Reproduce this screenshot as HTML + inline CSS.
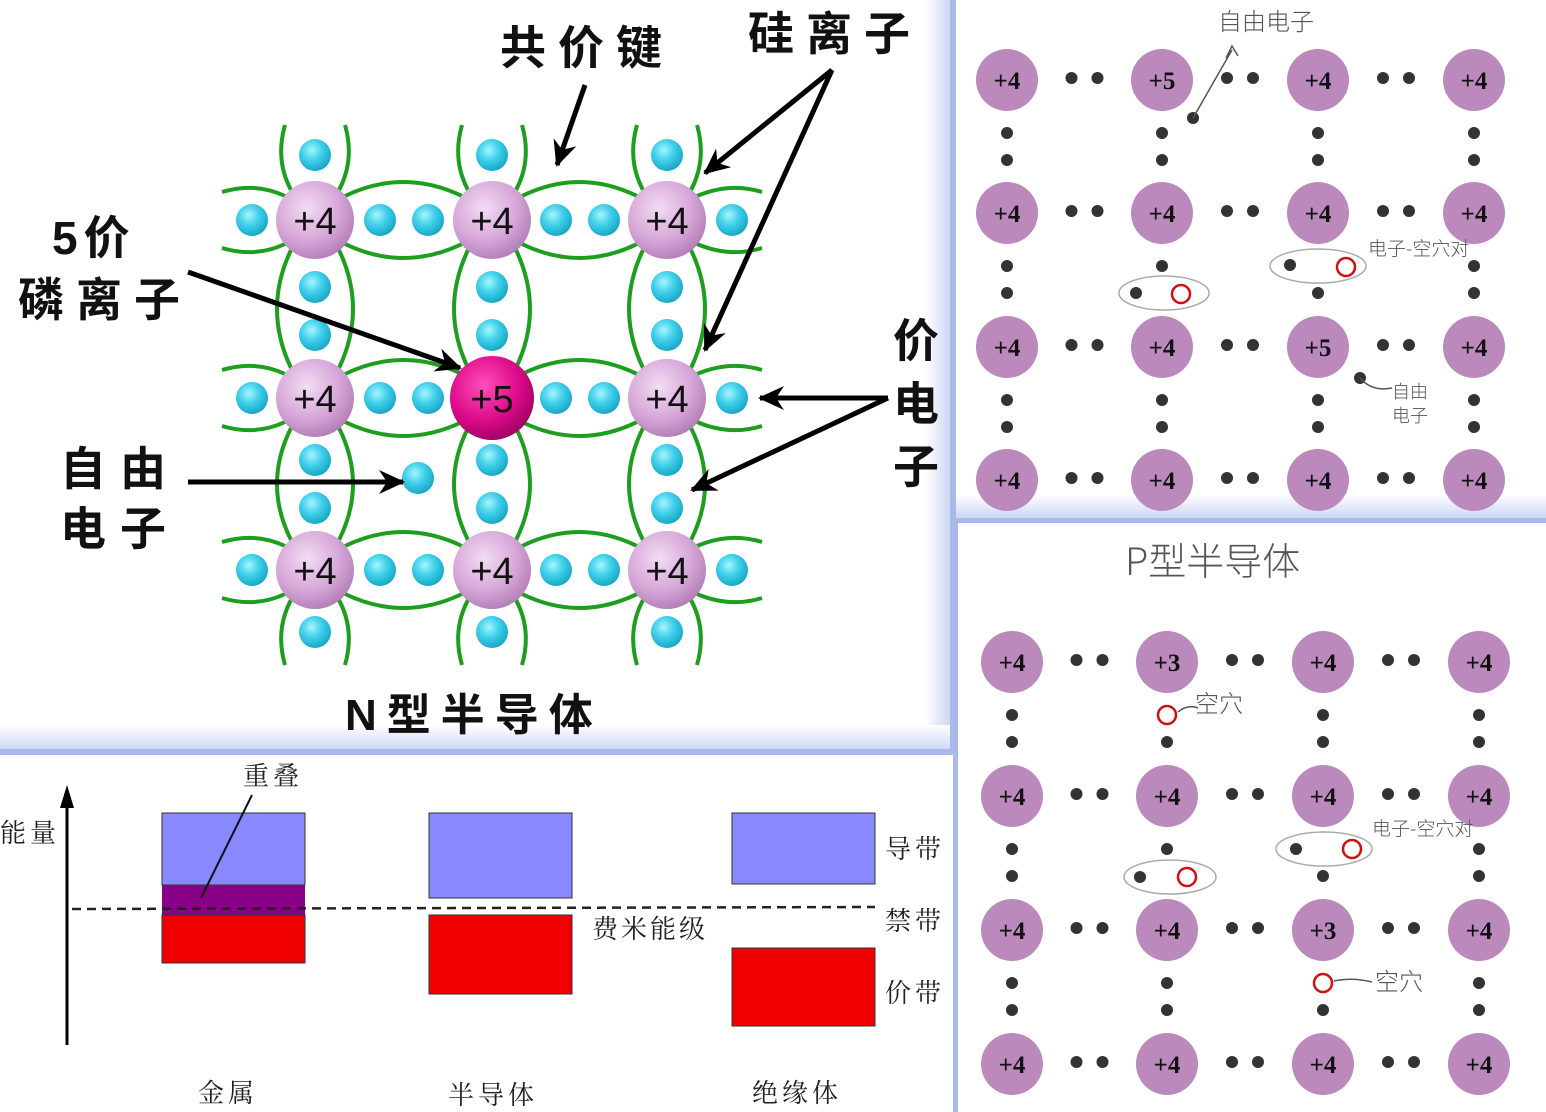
<!DOCTYPE html>
<html><head><meta charset="utf-8"><style>
html,body{margin:0;padding:0;background:#fff;}
body{width:1546px;height:1112px;overflow:hidden;position:relative;font-family:"Liberation Sans","Noto Sans CJK SC",sans-serif;}
svg{position:absolute;left:0;top:0;}
</style></head><body>
<svg id="s" width="1546" height="1112" viewBox="0 0 1546 1112" xmlns="http://www.w3.org/2000/svg">
<defs>
<radialGradient id="gb" cx="40%" cy="35%" r="65%"><stop offset="0" stop-color="#a8f4ff"/><stop offset="0.5" stop-color="#3fd0ea"/><stop offset="1" stop-color="#1aa8c8"/></radialGradient>
<radialGradient id="gp" cx="40%" cy="35%" r="70%"><stop offset="0" stop-color="#f3dcf3"/><stop offset="0.6" stop-color="#d6a6d8"/><stop offset="1" stop-color="#b07ab4"/></radialGradient>
<radialGradient id="gm" cx="40%" cy="35%" r="70%"><stop offset="0" stop-color="#ff4fb8"/><stop offset="0.6" stop-color="#dd0a8a"/><stop offset="1" stop-color="#9a0060"/></radialGradient>
<marker id="ah2" markerWidth="28" markerHeight="24" refX="24" refY="12" orient="auto" markerUnits="userSpaceOnUse"><path d="M0,0 L26,12 L0,24 L8,12z" fill="#000"/></marker>
<linearGradient id="edgeV" x1="0" x2="1"><stop offset="0" stop-color="#fff"/><stop offset="1" stop-color="#c9d4f4"/></linearGradient>
<linearGradient id="edgeH" x1="0" x2="0" y1="0" y2="1"><stop offset="0" stop-color="#fff"/><stop offset="1" stop-color="#c9d4f4"/></linearGradient>
</defs>
<rect x="925" y="0" width="27" height="752" fill="url(#edgeV)"/>
<rect x="0" y="725" width="952" height="27" fill="url(#edgeH)"/>
<rect x="0" y="749" width="952" height="6" fill="#a9b9ea"/>
<rect x="950" y="0" width="6" height="755" fill="#a9b9ea"/>
<rect x="956" y="495" width="590" height="24" fill="url(#edgeH)"/>
<rect x="956" y="518" width="590" height="5" fill="#a9b9ea"/>
<rect x="953" y="520" width="5" height="592" fill="#a9b9ea"/>
<g id="lat"></g>
<g id="rt"></g>
<g id="rb"></g>
<g font-family="'Liberation Sans','Noto Sans CJK SC',sans-serif" font-weight="bold" fill="#111">
<text x="500" y="64" font-size="46" letter-spacing="12">共价键</text>
<text x="748" y="50" font-size="46" letter-spacing="12">硅离子</text>
<text x="52" y="254" font-size="46" letter-spacing="6">5价</text>
<text x="18" y="316" font-size="46" letter-spacing="12">磷离子</text>
<text x="60" y="485" font-size="46" letter-spacing="14">自由</text>
<text x="60" y="545" font-size="46" letter-spacing="14">电子</text>
<text x="893" y="357" font-size="46">价</text>
<text x="893" y="420" font-size="46">电</text>
<text x="893" y="483" font-size="46">子</text>
<text x="345" y="730" font-size="44" letter-spacing="10">N型半导体</text>
</g>
<g stroke="#000" stroke-width="5" fill="none">
<line x1="585" y1="85" x2="557" y2="165" marker-end="url(#ah2)"/>
<line x1="832" y1="70" x2="705" y2="173" marker-end="url(#ah2)"/>
<line x1="832" y1="70" x2="705" y2="350" marker-end="url(#ah2)"/>
<line x1="188" y1="272" x2="460" y2="368" marker-end="url(#ah2)"/>
<line x1="188" y1="482" x2="403" y2="482" marker-end="url(#ah2)"/>
<line x1="888" y1="398" x2="760" y2="398" marker-end="url(#ah2)"/>
<line x1="888" y1="398" x2="692" y2="490" marker-end="url(#ah2)"/>
</g>
<g>
<line x1="67" y1="1045" x2="67" y2="800" stroke="#000" stroke-width="3"/>
<path d="M60,808 L67,785 L74,808z" fill="#000"/>
<rect x="162" y="813" width="143" height="72" fill="#8888ff" stroke="#333" stroke-width="1"/>
<rect x="162" y="885" width="143" height="30" fill="#880088"/>
<rect x="162" y="915" width="143" height="48" fill="#f00000" stroke="#333" stroke-width="1"/>
<rect x="429" y="813" width="143" height="85" fill="#8888ff" stroke="#333" stroke-width="1"/>
<rect x="429" y="915" width="143" height="79" fill="#f00000" stroke="#333" stroke-width="1"/>
<rect x="732" y="813" width="143" height="71" fill="#8888ff" stroke="#333" stroke-width="1"/>
<rect x="732" y="948" width="143" height="78" fill="#f00000" stroke="#333" stroke-width="1"/>
<line x1="72" y1="909" x2="875" y2="907" stroke="#222" stroke-width="2.5" stroke-dasharray="9,6"/>
<line x1="252" y1="795" x2="201" y2="898" stroke="#111" stroke-width="2"/>
<g font-family="'Liberation Serif','Noto Serif CJK SC',serif" fill="#222" font-size="26">
<text x="243" y="785" letter-spacing="4">重叠</text>
<text x="0" y="842" letter-spacing="4">能量</text>
<text x="885" y="858" letter-spacing="4">导带</text>
<text x="885" y="930" letter-spacing="4">禁带</text>
<text x="885" y="1002" letter-spacing="4">价带</text>
<text x="592" y="938" letter-spacing="3">费米能级</text>
<text x="198" y="1102" letter-spacing="4">金属</text>
<text x="448" y="1104" letter-spacing="4">半导体</text>
<text x="752" y="1102" letter-spacing="4">绝缘体</text>
</g>
</g>
<g font-family="'Noto Sans CJK SC',sans-serif" fill="#555" font-weight="300">
<text x="1218" y="30" font-size="24">自由电子</text>
<text x="1368" y="255" font-size="19">电子-空穴对</text>
<text x="1392" y="398" font-size="18">自由</text>
<text x="1392" y="422" font-size="18">电子</text>
<text x="1125" y="575" font-size="38">P型半导体</text>
<text x="1195" y="712" font-size="24">空穴</text>
<text x="1372" y="835" font-size="19">电子-空穴对</text>
<text x="1375" y="990" font-size="24">空穴</text>
</g>
<g stroke="#555" stroke-width="1.5" fill="none">
<path d="M1193,118 L1232,50 M1226,58 L1232,46 L1238,56"/>
<path d="M1360,378 Q1372,392 1392,388"/>
<path d="M1178,712 Q1188,704 1198,708"/>
<path d="M1334,981 Q1352,977 1372,982"/>
<ellipse cx="1164" cy="293" rx="45" ry="17" stroke="#aaa"/>
<ellipse cx="1318" cy="266" rx="48" ry="17" stroke="#aaa"/>
<ellipse cx="1170" cy="877" rx="46" ry="17" stroke="#aaa"/>
<ellipse cx="1324" cy="849" rx="48" ry="17" stroke="#aaa"/>
</g>
</svg>
<script>
var NS="http://www.w3.org/2000/svg";
function el(p,t,a,txt){var e=document.createElementNS(NS,t);for(var k in a)e.setAttribute(k,a[k]);if(txt)e.textContent=txt;document.getElementById(p).appendChild(e);return e;}
var X=[315,492,667],Y=[220,398,570];
var g="lat";
function P(d){el(g,"path",{d:d,stroke:"#1e9e1e","stroke-width":4,fill:"none"});}
function arcV(x,y1,y2){var m=(y1+y2)/2;
 P("M"+(x-24)+","+y1+" Q"+(x-52)+","+m+" "+(x-24)+","+y2);
 P("M"+(x+24)+","+y1+" Q"+(x+52)+","+m+" "+(x+24)+","+y2);}
function arcH(y,x1,x2){var m=(x1+x2)/2;
 P("M"+x1+","+(y-24)+" Q"+m+","+(y-52)+" "+x2+","+(y-24));
 P("M"+x1+","+(y+24)+" Q"+m+","+(y+52)+" "+x2+","+(y+24));}
for(var i=0;i<3;i++){var x=X[i];
 P("M"+(x-30)+",125 Q"+(x-40)+",160 "+(x-24)+",190");
 P("M"+(x+30)+",125 Q"+(x+40)+",160 "+(x+24)+",190");
 P("M"+(x-24)+",600 Q"+(x-40)+",630 "+(x-30)+",665");
 P("M"+(x+24)+",600 Q"+(x+40)+",630 "+(x+30)+",665");
 arcV(x,Y[0]+30,Y[1]-30);arcV(x,Y[1]+30,Y[2]-30);}
for(var j=0;j<3;j++){var y=Y[j];
 P("M222,"+(y-28)+" Q255,"+(y-38)+" 285,"+(y-24));
 P("M222,"+(y+28)+" Q255,"+(y+38)+" 285,"+(y+24));
 P("M697,"+(y-24)+" Q730,"+(y-38)+" 762,"+(y-28));
 P("M697,"+(y+24)+" Q730,"+(y+38)+" 762,"+(y+28));
 arcH(y,X[0]+30,X[1]-30);arcH(y,X[1]+30,X[2]-30);}
function e(x,y){el(g,"circle",{cx:x,cy:y,r:16,fill:"url(#gb)"});}
for(var j=0;j<3;j++){var y=Y[j];e(252,y);e(380,y);e(428,y);e(556,y);e(604,y);e(732,y);}
for(var i=0;i<3;i++){var x=X[i];e(x,155);e(x,287);e(x,335);e(x,460);e(x,508);e(x,632);}
e(418,478);
for(var j=0;j<3;j++)for(var i=0;i<3;i++){var x=X[i],y=Y[j];var c=(i==1&&j==1);
 el(g,"circle",{cx:x,cy:y,r:c?42:39,fill:c?"url(#gm)":"url(#gp)"});
 el(g,"text",{x:x,y:y+14,"text-anchor":"middle","font-size":38,"font-family":"'Liberation Sans',sans-serif",fill:"#111"},c?"+5":"+4");}
function panel(id,XS,YS,labels,skipV,extraDots,holes){
 g=id;
 for(var j=0;j<4;j++)for(var i=0;i<3;i++){var m=(XS[i]+XS[i+1])/2;
  el(g,"circle",{cx:m-13,cy:YS[j]-2,r:6,fill:"#333"});el(g,"circle",{cx:m+13,cy:YS[j]-2,r:6,fill:"#333"});}
 for(var i=0;i<4;i++)for(var j=0;j<3;j++){var y1=YS[j]+53,y2=YS[j]+80;
  [y1,y2].forEach(function(yy,k){var key=i+","+j+","+k;if(skipV[key])return;
   if(holes[key]){el(g,"circle",{cx:XS[i],cy:yy,r:9,fill:"none",stroke:"#d01010","stroke-width":2.5});return;}
   el(g,"circle",{cx:XS[i],cy:yy,r:6,fill:"#333"});});}
 extraDots.forEach(function(d){if(d[2])el(g,"circle",{cx:d[0],cy:d[1],r:9,fill:"none",stroke:"#d01010","stroke-width":2.5});else el(g,"circle",{cx:d[0],cy:d[1],r:6,fill:"#333"});});
 for(var j=0;j<4;j++)for(var i=0;i<4;i++){
  el(g,"circle",{cx:XS[i],cy:YS[j],r:31,fill:"#bb89bc"});
  el(g,"text",{x:XS[i],y:YS[j]+9,"text-anchor":"middle","font-size":25,"font-weight":"bold","font-family":"'Liberation Serif',serif",fill:"#111"},labels[j][i]);}
}
panel("rt",[1007,1162,1318,1474],[80,213,347,480],
 [["+4","+5","+4","+4"],["+4","+4","+4","+4"],["+4","+4","+5","+4"],["+4","+4","+4","+4"]],
 {"1,1,1":1,"2,1,0":1},
 [[1193,118],[1136,293],[1181,294,1],[1290,265],[1346,267,1],[1360,378]],{});
panel("rb",[1012,1167,1323,1479],[662,796,930,1064],
 [["+4","+3","+4","+4"],["+4","+4","+4","+4"],["+4","+4","+3","+4"],["+4","+4","+4","+4"]],
 {"1,1,1":1,"2,1,0":1},
 [[1140,877],[1187,877,1],[1296,849],[1352,849,1]],{"1,0,0":1,"2,2,0":1});
</script>
</body></html>
